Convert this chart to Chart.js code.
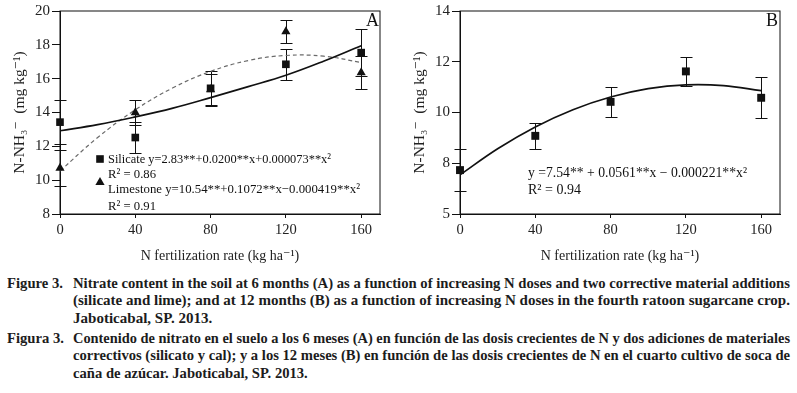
<!DOCTYPE html>
<html>
<head>
<meta charset="utf-8">
<script src="https://cdn.jsdelivr.net/npm/chart.js@4.4.0/dist/chart.umd.min.js"></script>
<style>
body{margin:0;background:#fff;width:797px;height:393px;overflow:hidden;position:relative;font-family:"Liberation Serif","Times New Roman","DejaVu Serif",serif;}
canvas{position:absolute;top:0;}
#chartA{left:0;}
#chartB{left:400px;}
.cap{position:absolute;left:0;width:797px;font-weight:bold;font-size:15px;color:#1c1c1c;line-height:17.5px;}
.cap .lab{position:absolute;left:7px;top:0;white-space:nowrap;transform-origin:0 50%;}
.cap .ln{margin-left:73px;height:17.5px;white-space:nowrap;}
.cap .ln span{display:inline-block;transform-origin:0 50%;}
</style>
</head>
<body>
<canvas id="chartA" width="400" height="265"></canvas>
<canvas id="chartB" width="397" height="265"></canvas>

<div class="cap" style="top:274.5px">
  <span class="lab" data-w="56">Figure 3.</span>
  <div class="ln" data-w="717"><span>Nitrate content in the soil at 6 months (A) as a function of increasing N doses and two corrective material additions</span></div>
  <div class="ln" data-w="717"><span>(silicate and lime); and at 12 months (B) as a function of increasing N doses in the fourth ratoon sugarcane crop.</span></div>
  <div class="ln"><span>Jaboticabal, SP. 2013.</span></div>
</div>
<div class="cap" style="top:329.5px">
  <span class="lab" data-w="57">Figura 3.</span>
  <div class="ln" data-w="717"><span>Contenido de nitrato en el suelo a los 6 meses (A) en función de las dosis crecientes de N y dos adiciones de materiales</span></div>
  <div class="ln" data-w="717"><span>correctivos (silicato y cal); y a los 12 meses (B) en función de las dosis crecientes de N en el cuarto cultivo de soca de</span></div>
  <div class="ln"><span>caña de azúcar. Jaboticabal, SP. 2013.</span></div>
</div>

<script>
// N doses (kg ha-1)
const doses = [0, 40, 80, 120, 160];
const xTicks = [0, 40, 80, 120, 160];

// panel A, 6 months
const silicateA = [13.43, 12.52, 15.43, 16.85, 17.54];
const silicateErrA = [1.3, 0.94, 1.0, 0.9, 1.4];
const limestoneA = [10.71, 14.0, 15.35, 18.78, 16.36];
const limestoneErrA = [1.05, 0.73, 0.95, 0.69, 1.0];
const curveX = [0, 20, 40, 60, 80, 100, 120, 140, 160];
const silicateFitA = [12.92, 13.28, 13.74, 14.26, 14.88, 15.53, 16.2, 17.03, 17.95];
const limestoneFitA = [10.54, 12.52, 14.16, 15.46, 16.43, 17.07, 17.37, 17.33, 16.96];
const yTicksA = [8, 10, 12, 14, 16, 18, 20];

// panel B, 12 months
const nitrateB = [7.73, 9.08, 10.42, 11.62, 10.58];
const nitrateErrB = [0.83, 0.5, 0.6, 0.58, 0.8];
const fitB = [7.54, 8.57, 9.43, 10.11, 10.61, 10.94, 11.09, 11.06, 10.86];
const yTicksB = [6, 8, 10, 12, 14];
const yTickLabelsB = ["5", "8", "10", "12", "14"];

const ink = "#111";
const serif = "'Liberation Serif', 'Times New Roman', 'DejaVu Serif', serif";

function pts(xs, ys){
   return xs.map((x, i) => ({ x: x, y: ys[i] }));
}

/* box round the plot */
const frame = {
   id: "frame",
   beforeDatasetsDraw(chart){
      const a = chart.chartArea;
      const ctx = chart.ctx;
      ctx.save();
      ctx.strokeStyle = ink;
      ctx.lineWidth = 1;
      ctx.strokeRect(a.left, a.top, a.right - a.left, a.bottom - a.top);
      ctx.restore();
   }
};

/* vertical error bars with caps */
const errorBars = {
   id: "errorBars",
   beforeDatasetsDraw(chart){
      const ctx = chart.ctx;
      const xs = chart.scales.x, ys = chart.scales.y;
      ctx.save();
      ctx.strokeStyle = ink;
      ctx.lineWidth = 1;
      chart.data.datasets.forEach(ds => {
         if(!ds.errors) return;
         ds.data.forEach((p, i) => {
            const px = Math.round(xs.getPixelForValue(p.x)) + 0.5;
            const t = Math.round(ys.getPixelForValue(p.y + ds.errors[i])) + 0.5;
            const b = Math.round(ys.getPixelForValue(p.y - ds.errors[i])) + 0.5;
            ctx.beginPath();
            ctx.moveTo(px, t); ctx.lineTo(px, b);
            ctx.moveTo(px - 6, t); ctx.lineTo(px + 6, t);
            ctx.moveTo(px - 6, b); ctx.lineTo(px + 6, b);
            ctx.stroke();
         });
      });
      ctx.restore();
   }
};

/* equations, letters and legend marks */
const notes = {
   id: "notes",
   afterDraw(chart, args, opts){
      const ctx = chart.ctx;
      ctx.save();
      ctx.fillStyle = ink;
      (opts.items || []).forEach(it => {
         if(it.mark === "rect"){
            ctx.fillRect(it.x - 3.8, it.y - 3.8, 7.6, 7.6);
            return;
         }
         if(it.mark === "triangle"){
            ctx.beginPath();
            ctx.moveTo(it.x, it.y - 5);
            ctx.lineTo(it.x + 4.6, it.y + 3);
            ctx.lineTo(it.x - 4.6, it.y + 3);
            ctx.closePath();
            ctx.fill();
            return;
         }
         ctx.font = (it.size || 13.5) + "px " + serif;
         ctx.textBaseline = "middle";
         ctx.textAlign = it.align || "left";
         if(it.w) ctx.fillText(it.text, it.x, it.y, it.w);
         else ctx.fillText(it.text, it.x, it.y);
      });
      ctx.restore();
   }
};

function axisX(){
   return {
      type: "linear", min: 0, max: 170,
      afterBuildTicks: s => { s.ticks = xTicks.map(v => ({ value: v })); },
      grid: { drawOnChartArea: false, drawTicks: true, tickLength: 4, color: ink },
      border: { color: ink, width: 1 },
      ticks: { color: "#222", autoSkip: false, maxRotation: 0, padding: 3,
               font: { family: serif, size: 14.5 } },
      title: { display: true, text: "N fertilization rate (kg ha\u207B\u00B9)", color: "#222",
               font: { family: serif, size: 14 }, padding: { top: 1.6, bottom: 0 } },
      afterFit: s => { s.height = 51; }
   };
}

function axisY(min, max, ticks, labels){
   return {
      min: min, max: max,
      afterBuildTicks: s => { s.ticks = ticks.map(v => ({ value: v })); },
      grid: { drawOnChartArea: false, drawTicks: true, tickLength: 8, color: ink },
      border: { color: ink, width: 1 },
      ticks: { color: "#222", padding: 2, font: { family: serif, size: 15 },
               callback: (v, i) => labels ? labels[i] : v },
      title: { display: true, text: "N-NH\u2083\u207B  (mg kg\u207B\u00B9)", color: "#222",
               font: { family: serif, size: 15.5 }, padding: { top: 11, bottom: 0 } },
      afterFit: s => { s.width = 60; }
   };
}

const baseOpts = {
   animation: false, responsive: false, events: [],
   plugins: { legend: { display: false }, tooltip: { enabled: false } }
};

new Chart(document.getElementById("chartA"), {
   type: "scatter",
   data: {
      datasets: [
         { label: "Silicate", data: pts(doses, silicateA), errors: silicateErrA,
           pointStyle: "rect", pointRadius: 5.4, backgroundColor: ink, borderColor: ink,
           borderWidth: 0, order: 0, clip: false },
         { label: "Limestone", data: pts(doses, limestoneA), errors: limestoneErrA,
           pointStyle: "triangle", pointRadius: 5.3, backgroundColor: ink, borderColor: ink,
           borderWidth: 0, order: 1, clip: false },
         { type: "line", data: pts(curveX, silicateFitA), borderColor: ink, borderWidth: 1.7,
           pointRadius: 0, tension: 0.4, fill: false, order: 2 },
         { type: "line", data: pts(curveX, limestoneFitA), borderColor: "#6a6a6a", borderWidth: 1.2,
           borderDash: [4, 3], pointRadius: 0, tension: 0.4, fill: false, order: 3 }
      ]
   },
   options: Object.assign({}, baseOpts, {
      layout: { padding: { top: 11, right: 20, left: 0, bottom: 0 } },
      scales: { x: axisX(), y: axisY(8, 20, yTicksA, null) },
      plugins: Object.assign({}, baseOpts.plugins, {
         notes: { items: [
            { mark: "rect", x: 100, y: 159 },
            { text: "Silicate y=2.83**+0.0200**x+0.000073**x\u00B2", x: 108, y: 159, w: 223 },
            { text: "R\u00B2 = 0.86", x: 108, y: 174, w: 48 },
            { mark: "triangle", x: 100, y: 182 },
            { text: "Limestone y=10.54**+0.1072**x\u22120.000419**x\u00B2", x: 108, y: 189, w: 252 },
            { text: "R\u00B2 = 0.91", x: 108, y: 206, w: 48 },
            { text: "A", x: 379, y: 21, size: 18, align: "right" }
         ] }
      })
   }),
   plugins: [frame, errorBars, notes]
});

new Chart(document.getElementById("chartB"), {
   type: "scatter",
   data: {
      datasets: [
         { data: pts(doses, nitrateB), errors: nitrateErrB,
           pointStyle: "rect", pointRadius: 5.6, backgroundColor: ink, borderColor: ink,
           borderWidth: 0, order: 0, clip: false },
         { type: "line", data: pts(curveX, fitB), borderColor: ink, borderWidth: 1.7,
           pointRadius: 0, tension: 0.4, fill: false, order: 1 }
      ]
   },
   options: Object.assign({}, baseOpts, {
      layout: { padding: { top: 9.3, right: 17, left: 0, bottom: 0 } },
      scales: { x: axisX(), y: axisY(6, 14, yTicksB, yTickLabelsB) },
      plugins: Object.assign({}, baseOpts.plugins, {
         notes: { items: [
            { text: "y =7.54** + 0.0561**x \u2212 0.000221**x\u00B2", x: 128, y: 173.5, size: 14, w: 219 },
            { text: "R\u00B2 = 0.94", x: 128, y: 190.5, size: 14, w: 54 },
            { text: "B", x: 378, y: 21, size: 18, align: "right" }
         ] }
      })
   }),
   plugins: [frame, errorBars, notes]
});

/* squeeze caption lines to the widths of the printed figure;
   a closing line keeps the squeeze of the line above it */
document.querySelectorAll(".cap").forEach(block => {
   let last = 1;
   block.querySelectorAll(".lab, .ln").forEach(el => {
      const span = el.classList.contains("ln") ? el.querySelector("span") : el;
      const w = span.getBoundingClientRect().width;
      let k = last;
      if(el.dataset.w && w > 0) k = parseFloat(el.dataset.w) / w;
      if(el.classList.contains("ln")) last = k;
      span.style.transform = "scaleX(" + k + ")";
   });
});
</script>
</body>
</html>
